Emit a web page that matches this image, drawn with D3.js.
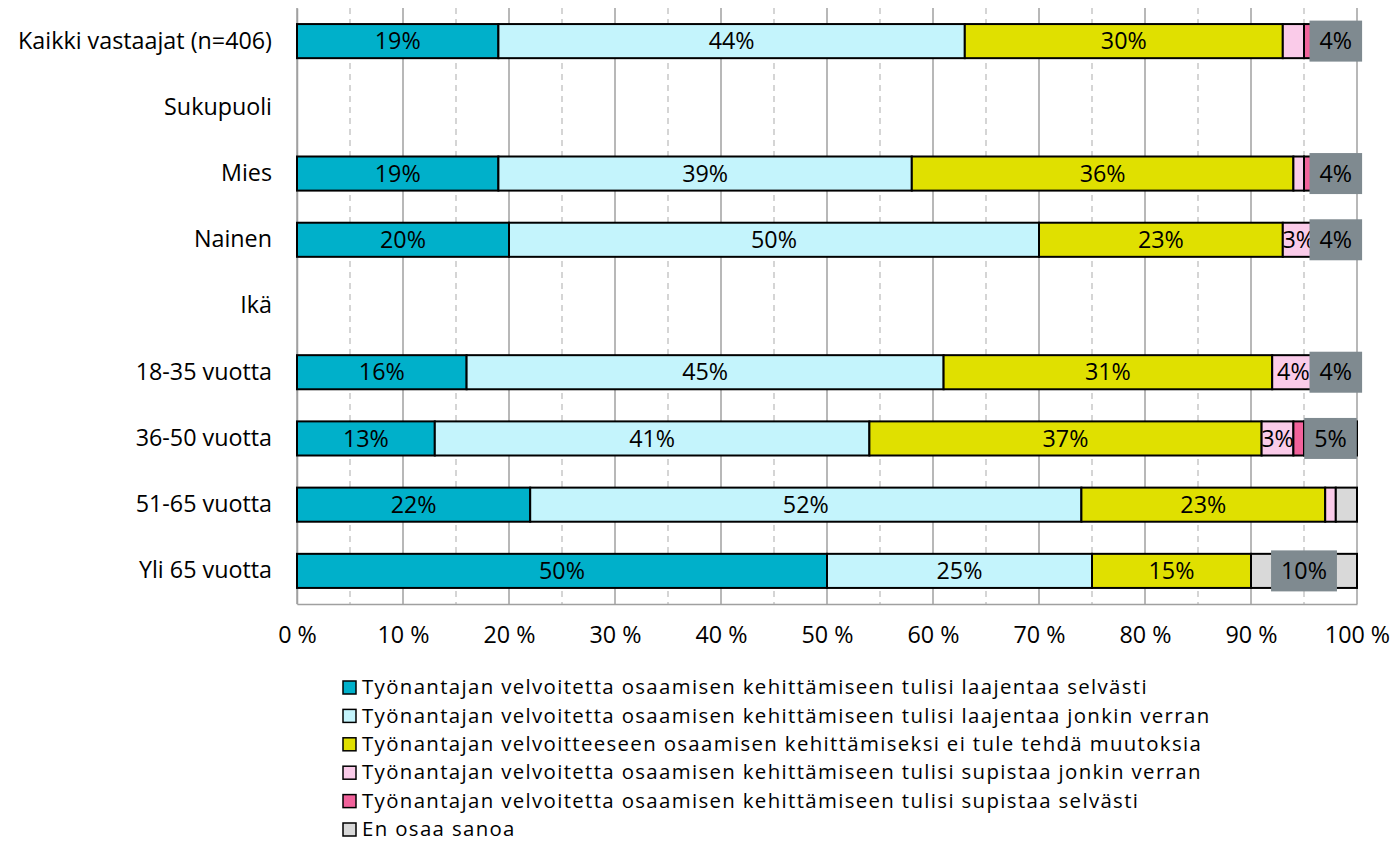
<!DOCTYPE html>
<html><head><meta charset="utf-8">
<script src="https://cdn.jsdelivr.net/npm/d3@7"></script>
<style>
body{margin:0;background:#fff;}
svg text{font-family:"Open Sans",sans-serif;fill:#000;}
</style>
</head><body>
<svg id="chart" width="1394" height="843"></svg>
<script>
const categories = ["Kaikki vastaajat (n=406)","Sukupuoli","Mies","Nainen","Ikä","18-35 vuotta","36-50 vuotta","51-65 vuotta","Yli 65 vuotta"];
const seriesNames = [
  "Työnantajan velvoitetta osaamisen kehittämiseen tulisi laajentaa selvästi",
  "Työnantajan velvoitetta osaamisen kehittämiseen tulisi laajentaa jonkin verran",
  "Työnantajan velvoitteeseen osaamisen kehittämiseksi ei tule tehdä muutoksia",
  "Työnantajan velvoitetta osaamisen kehittämiseen tulisi supistaa jonkin verran",
  "Työnantajan velvoitetta osaamisen kehittämiseen tulisi supistaa selvästi",
  "En osaa sanoa"
];
const laajentaaSelvasti = [19, null, 19, 20, null, 16, 13, 22, 50];
const laajentaaJonkin   = [44, null, 39, 50, null, 45, 41, 52, 25];
const eiMuutoksia       = [30, null, 36, 23, null, 31, 37, 23, 15];
const supistaaJonkin    = [2,  null, 1,  3,  null, 4,  3,  1,  0];
const supistaaSelvasti  = [1,  null, 1,  0,  null, 0,  1,  0,  0];
const enOsaa            = [4,  null, 4,  4,  null, 4,  5,  2,  10];
const xTicks = [0, 10, 20, 30, 40, 50, 60, 70, 80, 90, 100];
const minorTicks = [5, 15, 25, 35, 45, 55, 65, 75, 85, 95];
const colors = ["#00b0ca", "#c4f4fc", "#e0e000", "#facbe9", "#f1629b", "#d9d9d9"];

const seriesValues = [laajentaaSelvasti, laajentaaJonkin, eiMuutoksia, supistaaJonkin, supistaaSelvasti, enOsaa];

const svg = d3.select("#chart");

// fit font size so the first legend line matches the reference width
const probe = svg.append("text").style("font-size", "20px").text(seriesNames[0]);
const W20 = probe.node().getComputedTextLength();
const FS = 20 * 786 / W20;
const LFS = Math.min(FS, 20.4);
probe.style("font-size", LFS + "px");
const LSP = Math.max(0, (786 - probe.node().getComputedTextLength()) / seriesNames[0].length);
probe.remove();

const x = d3.scaleLinear().domain([0, 100]).range([297, 1357]);
const y = d3.scaleBand().domain(categories).range([8, 604]).paddingInner(0.485).paddingOuter(0.2425);

// gridlines
const grid = svg.append("g");
grid.selectAll("line.minor").data(minorTicks).join("line")
  .attr("x1", d => x(d)).attr("x2", d => x(d)).attr("y1", 8).attr("y2", 604)
  .attr("stroke", "#c8c8c8").attr("stroke-width", 1.5).attr("stroke-dasharray", "6,5");
grid.selectAll("line.major").data(xTicks).join("line")
  .attr("x1", d => x(d)).attr("x2", d => x(d)).attr("y1", 8).attr("y2", 604)
  .attr("stroke", "#a0a0a0").attr("stroke-width", 1.5);

// x axis
const xAxis = svg.append("g").attr("transform", "translate(0,604)")
  .call(d3.axisBottom(x).tickValues(xTicks).tickSize(0).tickPadding(22).tickFormat(d => d + " %"));
xAxis.select(".domain").attr("stroke", "#a0a0a0").attr("stroke-width", 1.5);
xAxis.selectAll("text").style("font-size", FS + "px").style("font-family", "'Open Sans', sans-serif");

// y axis
const yAxis = svg.append("g").attr("transform", "translate(297,0)")
  .call(d3.axisLeft(y).tickSize(0).tickPadding(25));
yAxis.select(".domain").attr("stroke", "#a0a0a0").attr("stroke-width", 1.5);
yAxis.selectAll("text").style("font-size", FS + "px").style("font-family", "'Open Sans', sans-serif");

// stack data
const rows = categories.map((c, i) => {
  let cum = 0;
  const segs = [];
  seriesValues.forEach((arr, s) => {
    const v = arr[i];
    if (v == null) return;
    segs.push({cat: c, s, v, x0: cum, x1: cum + v});
    cum += v;
  });
  return segs;
}).flat().filter(d => d.v > 0);

const bars = svg.append("g");
bars.selectAll("rect").data(rows).join("rect")
  .attr("x", d => x(d.x0)).attr("width", d => x(d.x1) - x(d.x0))
  .attr("y", d => y(d.cat)).attr("height", y.bandwidth())
  .attr("fill", d => colors[d.s]).attr("stroke", "#000").attr("stroke-width", 2);

// labels
const labelData = rows.filter(d => d.v >= 3);
const plainLabels = svg.append("g");
const boxLabels = svg.append("g");
labelData.forEach(d => {
  const cx = (x(d.x0) + x(d.x1)) / 2;
  const cy = y(d.cat) + y.bandwidth() / 2;
  if (d.s === 5) {
    const r = boxLabels.append("rect").attr("fill", "#7f8a90");
    const t = boxLabels.append("text").attr("x", cx).attr("y", cy).attr("dy", "0.35em")
      .attr("text-anchor", "middle").style("font-size", FS + "px").text(d.v + "%");
    const w = t.node().getComputedTextLength();
    r.attr("x", cx - w / 2 - 10).attr("width", w + 20)
      .attr("y", cy - 20.5).attr("height", 41);
  } else {
    plainLabels.append("text").attr("x", cx).attr("y", cy).attr("dy", "0.35em")
      .attr("text-anchor", "middle").style("font-size", FS + "px").text(d.v + "%");
  }
});

// legend
const legend = svg.append("g");
seriesNames.forEach((name, i) => {
  const cy = 687 + i * 28.4;
  legend.append("rect").attr("x", 343).attr("y", cy - 6).attr("width", 13).attr("height", 13)
    .attr("fill", colors[i]).attr("stroke", "#000").attr("stroke-width", 1.5);
  legend.append("text").attr("x", 362).attr("y", cy).attr("dy", "0.35em")
    .style("font-size", LFS + "px").style("letter-spacing", LSP + "px").text(name);
});
</script>
</body></html>
